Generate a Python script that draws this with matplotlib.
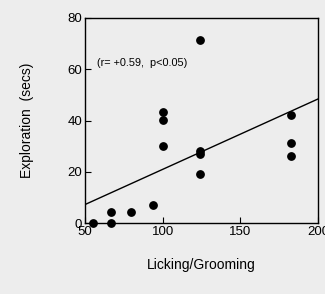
import numpy as np
import matplotlib
matplotlib.use("Agg")
import matplotlib.pyplot as plt

plt.rcParams['font.family'] = ['Liberation Sans', 'DejaVu Sans']

# data
licking = [55.4, 66.7, 66.7, 79.4, 93.5, 99.9, 99.9, 99.9, 124.1, 124.1, 124.1, 124.1, 182.4, 182.4, 182.4]
exploration = [0, 0, 4.2, 4.2, 7.2, 43.3, 40.2, 30.0, 71.3, 28.2, 27.0, 19.2, 42.3, 31.1, 26.1]
fit_x = [50, 200]
fit_y = [7.2, 48.4]
xticks = [50, 100, 150, 200]
yticks = [0, 20, 40, 60, 80]

bg = '#ededed'
fig = plt.figure(figsize=(3.25, 2.94), dpi=100, facecolor=bg)
ax = fig.add_axes([85 / 325, 1 - 223 / 294, (318 - 85) / 325, (223 - 18) / 294])
ax.set_facecolor(bg)

ax.plot(fit_x, fit_y, color='black', lw=1.0)
ax.scatter(licking, exploration, s=28, color='black', zorder=3, clip_on=False)

ax.set_xlim(50, 200)
ax.set_ylim(0, 80)
ax.set_xticks(xticks)
ax.set_yticks(yticks)
ax.tick_params(direction='in', length=4, width=0.8, labelsize=9.5, pad=2)
for s in ax.spines.values():
    s.set_linewidth(1.0)

ax.text(58, 62.4, '(r= +0.59,  p<0.05)', fontsize=7.8, va='center', ha='left')

ax.set_xlabel('Licking/Grooming', fontsize=10)
ax.xaxis.set_label_coords(0.5, -(265 - 223) / 205, transform=ax.transAxes)
ax.xaxis.label.set_va('center')
ax.set_ylabel('Exploration  (secs)', fontsize=10)
ax.yaxis.set_label_coords(-(85 - 27) / 233, 0.5)
ax.yaxis.label.set_va('center')

fig.savefig('out.png', dpi=100, facecolor=bg)
